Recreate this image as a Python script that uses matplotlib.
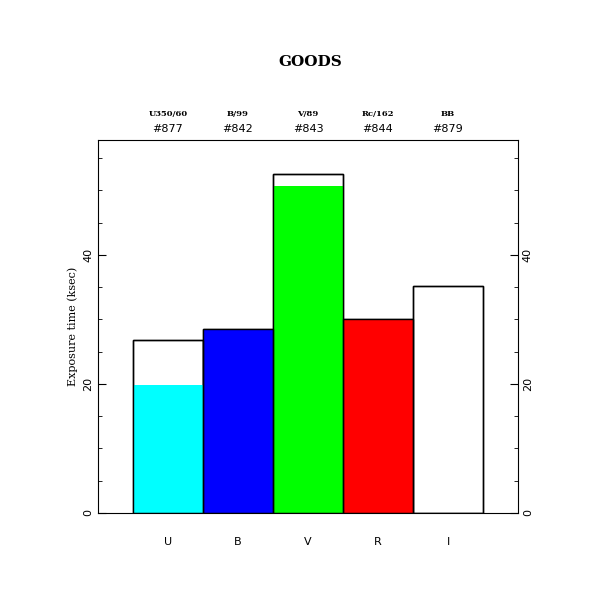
import matplotlib
matplotlib.use("Agg")
import matplotlib.pyplot as plt

bands = ["U", "B", "V", "R", "I"]
filters = ["U350/60", "B/99", "V/89", "Rc/162", "BB"]
ids = ["#877", "#842", "#843", "#844", "#879"]
total = [26.8, 28.5, 52.6, 30.1, 35.2]
filled = [19.8, 28.5, 50.7, 30.1, 0]
colors = ["cyan", "blue", "lime", "red", "white"]

fig = plt.figure(figsize=(6.11, 6.11), dpi=100)
ax = fig.add_axes([98/611, 1 - 513/611, 420/611, 373/611])
x = range(len(bands))
ax.bar(x, total, width=1, facecolor="white", edgecolor="black", linewidth=1)
ax.bar(x, filled, width=1, color=colors, edgecolor="none")
ax.bar(x, total, width=1, facecolor="none", edgecolor="black", linewidth=1)
ax.set_xlim(-1, 5)
ax.set_ylim(0, 57.8)
ax.set_xticks([])
ax.set_yticks([0, 20, 40])
ax.set_yticks(range(0, 58, 5), minor=True)
ax.tick_params(axis="y", which="both", direction="in", right=True, labelright=True, length=6)
ax.tick_params(axis="y", which="minor", length=3)
for lbl in ax.get_yticklabels() + ax.get_yticklabels(which="both"):
    lbl.set_rotation(90)
    lbl.set_va("center")
    lbl.set_fontsize(8)
for t in ax.yaxis.get_ticklabels():
    t.set_rotation(90)
ax.tick_params(axis="y", labelrotation=90, labelsize=8)
ax.set_ylabel("Exposure time (ksec)", fontsize=8, family="DejaVu Serif")
for i in x:
    ax.text(i, -4.5, bands[i], ha="center", va="center", fontsize=8)
    ax.text(i, 59.5, ids[i], ha="center", va="center", fontsize=8)
    ax.text(i, 61.8, filters[i], ha="center", va="center", fontsize=6, family="DejaVu Serif", weight="bold")
fig.text(310/611, 1 - 62/611, "GOODS", ha="center", va="center", fontsize=11, family="DejaVu Serif", weight="bold")
fig.savefig("out.png", dpi=100)
